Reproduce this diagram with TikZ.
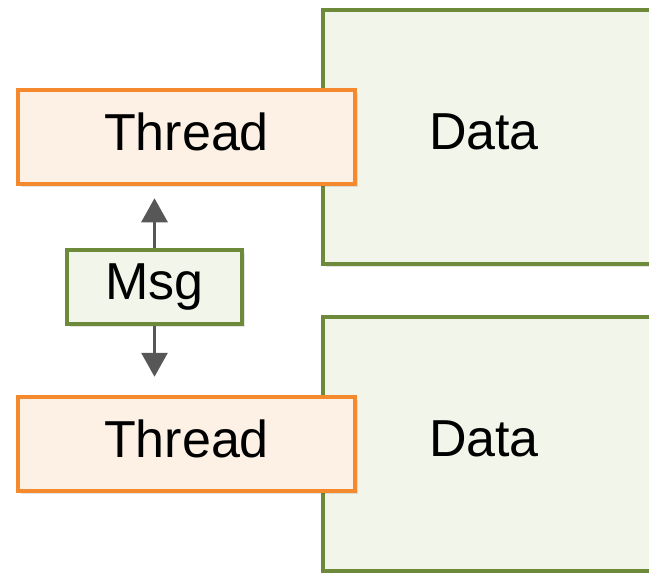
\documentclass[tikz,border=0pt]{standalone}
\usepackage{fontspec}
\setmainfont{Liberation Sans}
\usetikzlibrary{arrows.meta, shadows}

\definecolor{threadline}{HTML}{F5892E}
\definecolor{threadfill}{HTML}{FDF0E5}
\definecolor{dataline}{HTML}{6D8A3A}
\definecolor{datafill}{HTML}{F2F5EA}
\definecolor{msgarrow}{HTML}{575757}

\begin{document}
\begin{tikzpicture}[
        x=1pt, y=-1pt,
        % Soft shadow under every box
        box shadow/.style={drop shadow={shadow xshift=3pt, shadow yshift=-3pt, opacity=0.10, fill=black}},
        % Style for thread and message nodes
        thread/.style={draw=threadline, fill=threadfill, line width=4.5pt, rectangle, minimum width=337pt, minimum height=94pt, inner sep=0pt, text depth=11pt, font=\fontsize{52}{60}\selectfont, box shadow},
        msg/.style={draw=dataline, fill=datafill, line width=4pt, rectangle, minimum width=175pt, minimum height=74pt, inner sep=0pt, font=\fontsize{52}{60}\selectfont, box shadow},
        % Style for the data blocks, text sits near the left side
        data/.style={draw=dataline, fill=datafill, line width=4pt, rectangle, anchor=north west, outer sep=0pt, minimum height=254pt, text width=360pt, inner xsep=106pt, text depth=11pt, align=left, font=\fontsize{52}{60}\selectfont, box shadow},
        arrow/.style={-{Triangle[width=26pt, length=24pt]}, line width=3pt, draw=msgarrow}
    ]
    \clip (0, 0) rectangle (649, 573);

    % Data blocks
    \node[data] at (323, 10) (data1) {Data};
    \node[data] at (323, 317) (data2) {Data};

    % Thread nodes
    \node[thread] at (186.5, 137) (thread1) {Thread};
    \node[thread] at (186.5, 444) (thread2) {Thread};

    % Message between the threads
    \node[msg] at (154.5, 287) (msg) {Msg};

    % Drawing arrows from the message
    \draw[arrow, shorten >=12pt] (msg.north) -- (msg.north |- thread1.south);
    \draw[arrow, shorten >=18pt] (msg.south) -- (msg.south |- thread2.north);
\end{tikzpicture}
\end{document}
